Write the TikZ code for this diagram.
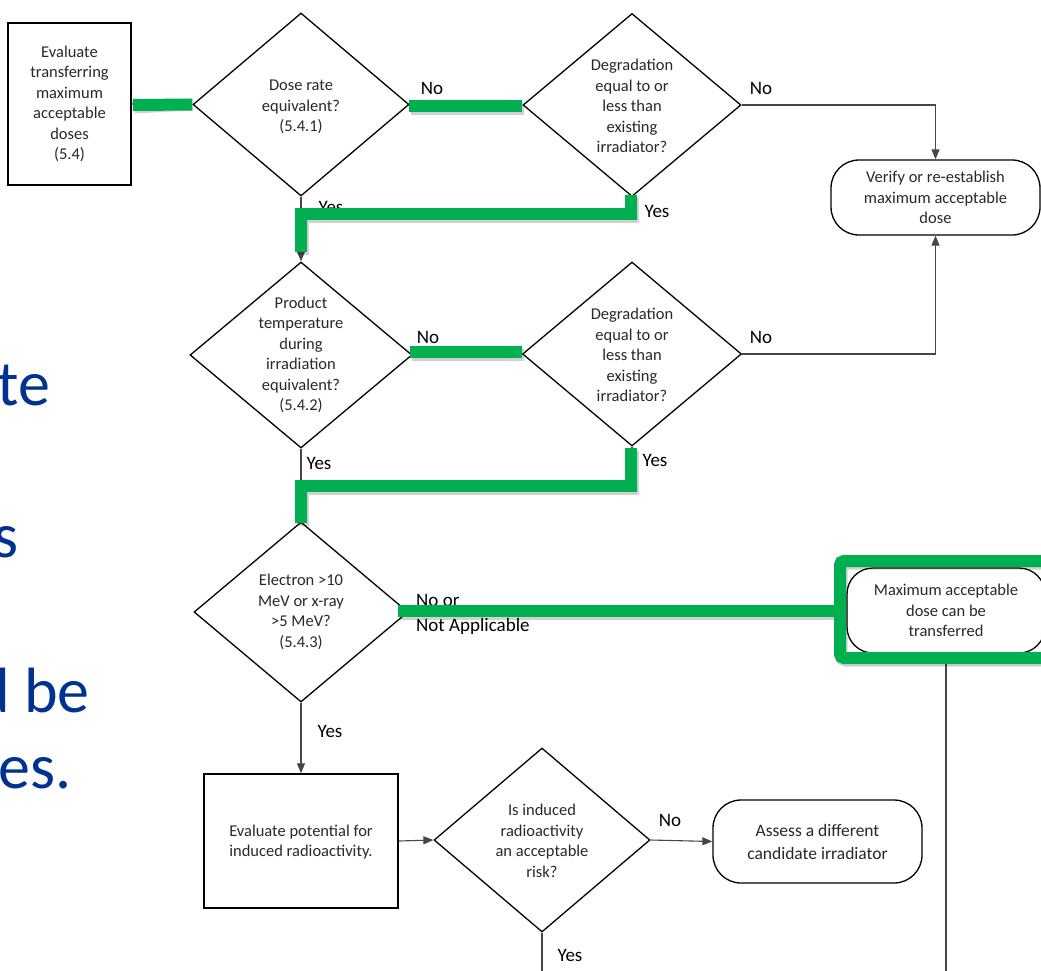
\documentclass[tikz,border=0pt]{standalone}
\usepackage{fontspec}
\setmainfont{Carlito}
\usetikzlibrary{shapes.geometric,arrows.meta}
\definecolor{grn}{RGB}{0,176,80}
\definecolor{slideblue}{RGB}{0,50,145}
\definecolor{txtgray}{RGB}{40,40,40}
\definecolor{conn}{RGB}{70,70,70}
\tikzset{
  dec/.style={diamond, draw=black, line width=1.3pt, inner sep=0pt},
  proc/.style={rectangle, draw=black, line width=1.4pt, inner sep=0pt},
  term/.style={rectangle, rounded corners=28pt, draw=black, line width=1.3pt, inner sep=0pt},
  txt/.style={align=center, inner sep=0pt, text=txtgray, font=\fontsize{16.5}{20.5}\selectfont},
  lbl/.style={inner sep=0pt, text=black, font=\fontsize{19}{26}\selectfont},
  big/.style={inner sep=0pt, anchor=base east, text=slideblue, font=\fontsize{64}{70}\selectfont},
  arr/.style={draw=conn, line width=1.1pt, -{Triangle[length=10pt,width=8pt]}},
  ln/.style={draw=conn, line width=1.1pt},
  hl/.style={draw=grn, line width=12pt},
  hlsh/.style={draw=black, opacity=0.18, line width=12pt}
}
\begin{document}
\begin{tikzpicture}[x=1pt,y=-1pt]
\useasboundingbox (0,0) rectangle (1041,970);
\clip (0,0) rectangle (1041,970);
\fill[white] (0,0) rectangle (1041,970);

% slide text fragments on the left
\node[big] (s1) at (50,405) {te};
\node[big] (s2) at (19,557) {s};
\node[big] (s3) at (90,712) {d be};
\node[big] (s4) at (72,788) {es.};

% shapes
\node[proc, minimum width=123pt, minimum height=162pt] (b1) at (69.5,104) {};
\node[dec, minimum width=216pt, minimum height=183pt] (d1) at (301,104.5) {};
\node[dec, minimum width=218pt, minimum height=183pt] (d2) at (632,105) {};
\node[term, minimum width=209pt, minimum height=75pt] (ver) at (935.5,197.5) {};
\node[dec, minimum width=222pt, minimum height=186pt] (d3) at (301,355) {};
\node[dec, minimum width=219pt, minimum height=184pt] (d4) at (632,354) {};
\node[dec, minimum width=214pt, minimum height=180pt] (d5) at (301,612) {};
\node[term, rounded corners=26pt, minimum width=198pt, minimum height=85pt] (mx) at (946,610.5) {};
\node[proc, minimum width=194pt, minimum height=134pt] (b2) at (301,841) {};
\node[dec, minimum width=216pt, minimum height=184pt] (d6) at (542,840) {};
\node[term, minimum width=209pt, minimum height=83pt] (as) at (817.5,841.5) {};

% texts
\node[txt] (t1) at (b1.center) {Evaluate\\transferring\\maximum\\acceptable\\doses\\(5.4)};
\node[txt] (t2) at (301,107) {Dose rate\\equivalent?\\(5.4.1)};
\node[txt] (t3) at (632,106) {Degradation\\equal to or\\less than\\existing\\irradiator?};
\node[txt] (t4) at (ver.center) {Verify or re-establish\\maximum acceptable\\dose};
\node[txt] (t5) at (301,355) {Product\\temperature\\during\\irradiation\\equivalent?\\(5.4.2)};
\node[txt] (t6) at (632,355) {Degradation\\equal to or\\less than\\existing\\irradiator?};
\node[txt] (t7) at (301,612) {Electron >10\\MeV or x-ray\\>5 MeV?\\(5.4.3)};
\node[txt] (t8) at (mx.center) {Maximum acceptable\\dose can be\\transferred};
\node[txt] (t9) at (301,842) {Evaluate potential for\\induced radioactivity.};
\node[txt] (t10) at (542,841) {Is induced\\radioactivity\\an acceptable\\risk?};
\node[txt, font=\fontsize{17.5}{23}\selectfont] (t11) at (as.center) {Assess a different\\candidate irradiator};

% junction / free-end coordinates
\coordinate (j1) at (301,214);
\coordinate (j2) at (301,486);
\coordinate (e1) at (542,975);
\coordinate (e2) at (946,975);

% connectors
\draw[arr] (b1.east) -- (d1.west);
\draw[arr] (d1.east) -- (d2.west);
\draw[arr] (d2.east) -| (ver.north);
\draw[arr] (d1.south) -- (d3.north);
\draw[arr] (d2.south) |- (j1);
\draw[arr] (d3.east) -- (d4.west);
\draw[arr] (d4.east) -| (ver.south);
\draw[arr] (d3.south) -- (d5.north);
\draw[arr] (d4.south) |- (j2);
\draw[arr] (d5.east) -- (d5.east -| mx.west);
\draw[arr] (d5.south) -- (b2.north);
\draw[arr] (b2.east) -- (d6.west);
\draw[arr] (d6.east) -- (as.west);
\draw[ln] (d6.south) -- (e1);
\draw[ln] (mx.south) -- (e2);

% labels
\node[lbl] (l1) at (432,88) {No};
\node[lbl] (l2) at (761,88) {No};
\node[lbl] (l3) at (331,207) {Yes};
\node[lbl] (l4) at (657,211) {Yes};
\node[lbl] (l5) at (428,337) {No};
\node[lbl] (l6) at (761,337) {No};
\node[lbl] (l7) at (319,463) {Yes};
\node[lbl] (l8) at (655,460) {Yes};
\node[lbl, anchor=west] (l9) at (416,600) {No or};
\node[lbl, anchor=west] (l10) at (416,626) {Not Applicable};
\node[lbl] (l11) at (330,731) {Yes};
\node[lbl] (l12) at (670,820) {No};
\node[lbl] (l13) at (570,955) {Yes};

% green highlight overlay (with faint shadow)
\begin{scope}[shift={(1.5,2.5)}]
\draw[hlsh] (133,105) -- (d1.west);
\draw[hlsh] (409,106) -- (522,106);
\draw[hlsh] (631,195) -- (631,214) -- (301,214) -- (301,252);
\draw[hlsh] (410,352) -- (522,352);
\draw[hlsh] (631,448) -- (631,486) -- (301,486) -- (301,523);
\draw[hlsh] (398,611) -- (840,611);
\draw[hlsh, rounded corners=4pt] (840,561) rectangle (1070,658);
\end{scope}
\draw[hl] (133,105) -- (d1.west);
\draw[hl] (409,106) -- (522,106);
\draw[hl] (631,195) -- (631,214) -- (301,214) -- (301,252);
\draw[hl] (410,352) -- (522,352);
\draw[hl] (631,448) -- (631,486) -- (301,486) -- (301,523);
\draw[hl] (398,611) -- (840,611);
\draw[hl, rounded corners=4pt] (840,561) rectangle (1070,658);
\end{tikzpicture}
\end{document}
